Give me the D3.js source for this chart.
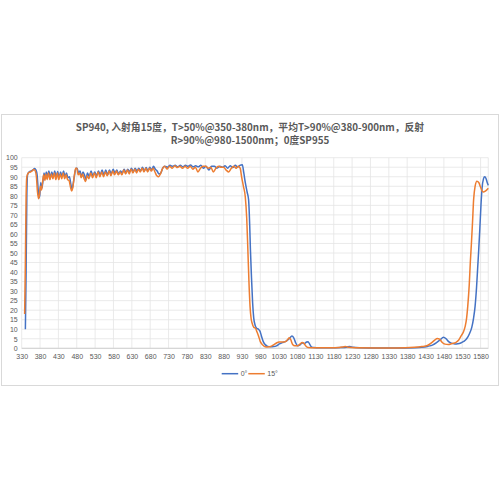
<!DOCTYPE html>
<html>
<head>
<meta charset="utf-8">
<script src="https://cdn.jsdelivr.net/npm/d3@7"></script>
<style>
  body { margin: 0; background: #fff; }
  svg { display: block; }
</style>
</head>
<body>
<div id="chart"></div>
<script>
// wavelength (nm) and transmittance (%)
const wl0 = [340,342,344,346,350,355,360,365,369,372,375,377,379,382,385,388,391,394,397,400,404,408,412,416,420,424,428,432,436,440,444,448,452,456,460,464,467,470,474,478,481,485,489,493,497,501,505,509,514,519,524,529,534,539,544,549,554,559,564,569,574,579,584,589,594,599,604,609,614,619,624,629,634,639,644,649,654,659,664,669,674,679,684,689,694,699,704,709,714,720,727,734,741,748,755,762,769,776,783,790,797,804,811,818,825,832,840,847,855,862,870,877,884,891,898,905,912,918,924,931,935,939,944,948,951,953,956,959,962,966,970,975,979,983,988,994,1000,1008,1016,1024,1032,1040,1048,1054,1060,1066,1071,1076,1082,1088,1094,1100,1106,1110,1114,1119,1126,1140,1170,1200,1215,1224,1232,1250,1300,1350,1400,1420,1435,1450,1460,1470,1479,1486,1493,1500,1510,1518,1526,1534,1542,1550,1556,1561,1565,1569,1572,1575,1578,1581,1584,1588,1591,1595,1598,1601];
const t0 = [10,40,80,91,92.5,93,93.5,94.3,93.5,91,83,79,80,87,84,88,92,89,92.5,90,93,89.5,92.5,90,93,89.5,92.8,89.5,92.5,90,93,90,92,89.5,90,86,83.5,86,91,94.5,94.5,92,93,90,92.5,91,88.5,92,90,93,90.5,92.5,90.5,93,91,93.5,91,93.5,91,93.5,91.5,94,92,93.5,91.5,93,92,94,92,94,92.5,94.5,92.5,94.5,93,94.5,93,95,93,94.8,93,95,93.5,95.5,94,93,91.5,92,94.5,95.5,95,96,95.5,96,95.3,96,95.3,96,95.5,96.2,95.2,95.8,95.2,96,94.5,95.5,93.5,95.5,95.5,94.5,95.5,95,95.8,94.5,95.8,94.8,96,95,96,96.3,92,87,82,78,65,52,37,24,16,12,10.5,10,9,6.5,3.5,1.8,1,0.8,0.9,1.3,2.3,3,3.5,4.3,5.3,6.4,5.5,3,1.3,1.8,2.8,2.5,3.3,3.5,2.3,0.8,0.4,0.3,0.3,0.4,0.6,1,0.5,0.3,0.2,0.2,0.3,0.5,1,1.8,3,4.5,5.8,5,3.5,2.7,2.3,2.4,2.8,3.6,5,7.8,11,16,22,32,42,52,63,75,84,89,90,89,87,85.5];

const wl15 = [338,340,342,344,348,353,358,363,367,370,373,376,378,381,384,387,390,393,396,399,403,407,411,415,419,423,427,431,435,439,443,447,451,455,459,463,466,469,473,477,480,484,488,492,496,500,504,508,513,518,523,528,533,538,543,548,553,558,563,568,573,578,583,588,593,598,603,608,613,618,623,628,633,638,643,648,653,658,663,668,673,678,683,688,693,698,703,708,713,719,726,733,740,747,754,761,768,775,782,789,796,803,810,817,824,831,838,845,852,859,866,873,880,887,894,901,908,914,920,925,929,934,939,943,946,949,952,955,958,962,967,971,975,980,986,993,1000,1008,1016,1024,1031,1038,1044,1050,1055,1059,1063,1068,1074,1082,1088,1094,1099,1104,1110,1130,1170,1195,1205,1212,1220,1240,1300,1350,1400,1420,1435,1447,1455,1462,1468,1475,1483,1492,1502,1512,1520,1527,1533,1538,1542,1545,1549,1552,1555,1558,1561,1565,1570,1575,1580,1587,1593,1601];
const t15 = [18,45,80,90,92,92.5,93,93.8,93,90,82,78.5,80,85,83,87.5,91,88,91.5,88.5,92,88.5,91.5,89,92,88.5,92,88.5,91.5,89,92,89,91,88.5,88,84.5,82.5,84,90,94.5,94.5,91,92,89.5,91.5,89,87.5,90.5,89,92,89.5,92,89.5,92.5,90,92.5,90,92.5,90.5,93,90.5,93,91,93,91,92.5,91,93.5,91.5,93.5,91.5,94,92,94,92,94,92.5,94.5,92.5,94.5,92.5,94.5,93,94.5,92.5,90.5,90,91.5,94,95.5,94,95.5,94.5,95.8,94.8,95.5,94.5,95.5,94.5,95.5,94,95,92.5,94.5,95.5,95.5,94.5,95,92.5,94.5,95.5,95,95,93.5,92.5,94.5,95.5,94.5,95.5,94.5,90,85,79.5,68,52,35,22,15.5,13,11,10.5,8.5,6.5,3.5,1.8,0.8,0.7,0.9,1.8,2.8,3.3,3.3,3.3,3.6,4.8,5.6,4.5,2,1.3,1.3,2.2,3,2.6,1.2,0.4,0.3,0.3,0.4,0.7,1,0.5,0.3,0.2,0.2,0.5,0.9,1.5,3,4.3,5.2,4.8,3.2,2.2,2,2.5,3,4.2,6.5,8.5,11.5,16,22,33,45,55,66,78,85,87.7,87,84.5,82,82.5,84];

const xTicks = d3.range(330, 1581, 50);
const yTicks = d3.range(0, 101, 5);
const seriesNames = ["0°", "15°"];
const colors = ["#4472C4", "#ED7D31"];
const titleLines = ["SP940, 入射角15度，T>50%@350-380nm，平均T>90%@380-900nm，反射",
                    "R>90%@980-1500nm；0度SP955"];

const W = 500, H = 500;
const plot = { left: 21.7, right: 488.3, top: 157.7, bottom: 348.3 };

const svg = d3.select("#chart").append("svg")
    .attr("width", W)
    .attr("height", H)
    .style("font-family", "'Noto Sans CJK SC', 'Noto Sans', sans-serif");

svg.append("rect").attr("width", W).attr("height", H).attr("fill", "#fff");

// chart frame
svg.append("rect")
    .attr("x", 1.5).attr("y", 114.5)
    .attr("width", 497).attr("height", 271)
    .attr("fill", "none")
    .attr("stroke", "#d9d9d9");

const x = d3.scaleLinear().domain([330, 1601]).range([plot.left, plot.right]);
const y = d3.scaleLinear().domain([0, 100]).range([plot.bottom, plot.top]);

// gridlines
const grid = svg.append("g").attr("stroke", "#e4e4e4").attr("stroke-width", 0.8);
grid.selectAll(".hg").data(yTicks).enter().append("line")
    .attr("x1", plot.left).attr("x2", plot.right)
    .attr("y1", d => y(d)).attr("y2", d => y(d));
grid.selectAll(".vg").data(xTicks.concat([1601])).enter().append("line")
    .attr("x1", d => x(d)).attr("x2", d => x(d))
    .attr("y1", plot.top).attr("y2", plot.bottom);

svg.append("line")
    .attr("x1", plot.left).attr("x2", plot.right)
    .attr("y1", plot.bottom).attr("y2", plot.bottom)
    .attr("stroke", "#d0d0d0");

// axes
const yAxis = svg.append("g")
    .attr("transform", "translate(" + plot.left + ",0)")
    .call(d3.axisLeft(y).tickValues(yTicks).tickSize(0).tickPadding(4));
const xAxis = svg.append("g")
    .attr("transform", "translate(0," + plot.bottom + ")")
    .call(d3.axisBottom(x).tickValues(xTicks).tickSize(0).tickPadding(6).tickFormat(d3.format("d")));
[yAxis, xAxis].forEach(a => {
    a.select(".domain").remove();
    a.selectAll("text")
        .attr("fill", "#595959")
        .style("font-size", "7px")
        .style("font-family", "'Liberation Sans', 'DejaVu Sans', sans-serif");
});

// lines
const line = d3.line()
    .x(d => x(d[0]))
    .y(d => y(d[1]))
    .curve(d3.curveMonotoneX);

const series = [d3.zip(wl0, t0), d3.zip(wl15, t15)];
svg.append("g").selectAll("path")
    .data(series)
    .enter()
    .append("path")
    .attr("d", line)
    .attr("fill", "none")
    .attr("stroke", (d, i) => colors[i])
    .attr("stroke-width", 1.5)
    .attr("stroke-linejoin", "round");

// title
svg.append("g").selectAll("text")
    .data(titleLines)
    .enter()
    .append("text")
    .attr("x", 250)
    .attr("y", (d, i) => 130.5 + i * 13.5)
    .attr("text-anchor", "middle")
    .attr("fill", "#595959")
    .style("font-size", "9.8px")
    .style("font-weight", "bold")
    .text(d => d);

// legend
const legX = [221.7, 248.3];
const leg = svg.append("g").selectAll("g")
    .data(seriesNames)
    .enter()
    .append("g")
    .attr("transform", (d, i) => "translate(" + legX[i] + ",373.7)");
leg.append("line")
    .attr("x1", 0).attr("x2", 16.5)
    .attr("stroke", (d, i) => colors[i])
    .attr("stroke-width", 1.5);
leg.append("text")
    .attr("x", 19)
    .attr("y", 2.5)
    .attr("fill", "#595959")
    .style("font-size", "7px")
    .style("font-family", "'Liberation Sans', 'DejaVu Sans', sans-serif")
    .text(d => d);
</script>
</body>
</html>
